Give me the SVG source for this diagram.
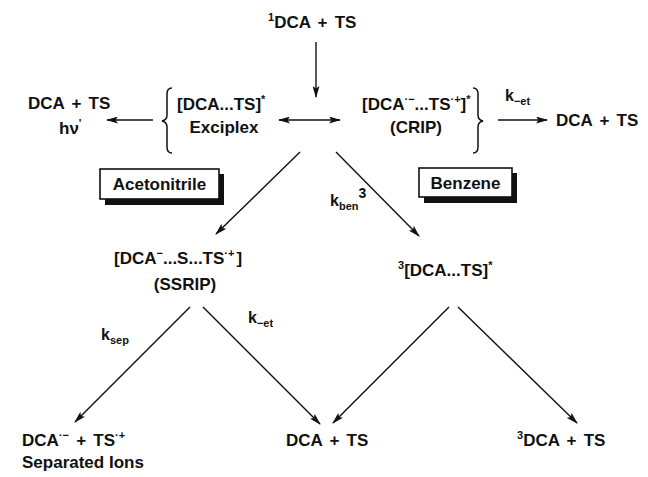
<svg xmlns="http://www.w3.org/2000/svg" width="648" height="477" viewBox="0 0 648 477">
<defs>
<style>
text{font-family:"Liberation Sans",Arial,Helvetica,sans-serif;font-weight:bold;fill:#111;font-size:17px}
.ws{word-spacing:2.5px}
.sup{font-size:11px}
.k{font-size:16px}
.con line{stroke:#111;stroke-width:1.4;fill:none}
.arr{marker-end:url(#ah)}
.brace{fill:none;stroke:#111;stroke-width:1.5}
.box{fill:#fff;stroke:#111;stroke-width:1.6}
.shadow{fill:#111}
</style>
<marker id="ah" viewBox="0 0 12 7" refX="11" refY="3.5" markerWidth="12" markerHeight="7" markerUnits="userSpaceOnUse" orient="auto-start-reverse">
<path d="M0,0 L12,3.5 L0,7 L2.5,3.5 z" fill="#111"/>
</marker>
</defs>
<rect width="648" height="477" fill="#fff"/>

<g id="n-top"><text x="268" y="28"><tspan class="sup" dy="-7">1</tspan><tspan class="ws" dy="7">DCA + TS</tspan></text></g>

<g id="n-left-ground"><text x="28" y="109" class="ws">DCA + TS</text><text x="59" y="134">hν<tspan class="sup" dy="-7">'</tspan></text></g>

<g id="n-exciplex">
<path class="brace" d="M172,88 Q167,88 167,94 L167,115 Q167,120 162,121 Q167,122 167,127 L167,147 Q167,153 172,153"/>
<text x="177" y="110">[DCA...TS]<tspan class="sup" dy="-7">*</tspan></text>
<text x="224" y="133" text-anchor="middle">Exciplex</text>
</g>

<g id="n-crip">
<text x="362" y="110">[DCA<tspan class="sup" dy="-7">·−</tspan><tspan dy="7">...TS</tspan><tspan class="sup" dy="-7">·+</tspan><tspan dy="7">]</tspan><tspan class="sup" dy="-7">*</tspan></text>
<text x="416" y="133" text-anchor="middle">(CRIP)</text>
<path class="brace" d="M473,88 Q478,88 478,94 L478,115 Q478,120 483,121 Q478,122 478,127 L478,147 Q478,153 473,153"/>
</g>

<g id="n-right-ground"><text x="556" y="126" class="ws">DCA + TS</text></g>

<g id="n-acetonitrile">
<rect class="shadow" x="105" y="174" width="119" height="31"/>
<rect class="box" x="100" y="169" width="119" height="30"/>
<text x="159.5" y="190" text-anchor="middle">Acetonitrile</text>
</g>

<g id="n-benzene">
<rect class="shadow" x="424" y="173" width="93" height="30"/>
<rect class="box" x="419" y="168" width="93" height="29"/>
<text x="465.5" y="189" text-anchor="middle">Benzene</text>
</g>

<g id="n-ssrip">
<text x="114" y="264">[DCA<tspan class="sup" dy="-7">−</tspan><tspan dy="7">...S...TS</tspan><tspan class="sup" dy="-7">·+</tspan><tspan dy="7" dx="2">]</tspan></text>
<text x="185" y="290" text-anchor="middle">(SSRIP)</text>
</g>

<g id="n-triplet-exciplex"><text x="398" y="276"><tspan class="sup" dy="-7">3</tspan><tspan dy="7">[DCA...TS]</tspan><tspan class="sup" dy="-7">*</tspan></text></g>

<g id="n-separated">
<text x="22" y="446">DCA<tspan class="sup" dy="-7">·−</tspan><tspan dy="7" class="ws"> + TS</tspan><tspan class="sup" dy="-7">·+</tspan></text>
<text x="22" y="468">Separated Ions</text>
</g>

<g id="n-ground-bottom"><text x="286" y="446" class="ws">DCA + TS</text></g>

<g id="n-triplet-dca"><text x="517" y="446"><tspan class="sup" dy="-7">3</tspan><tspan class="ws" dy="7">DCA + TS</tspan></text></g>

<g class="con" id="connectors">
<line class="arr" x1="316" y1="42" x2="316" y2="97"/>
<line class="arr" x1="153" y1="120" x2="107" y2="120"/>
<line x1="279" y1="120" x2="340" y2="120" style="marker-start:url(#ah);marker-end:url(#ah)"/>
<line class="arr" x1="498" y1="120" x2="547" y2="120"/>
<line class="arr" x1="300" y1="152" x2="216" y2="234"/>
<line class="arr" x1="336" y1="152" x2="419" y2="236"/>
<line class="arr" x1="190" y1="307" x2="75" y2="422"/>
<line class="arr" x1="203" y1="307" x2="320" y2="424"/>
<line class="arr" x1="449" y1="307" x2="333" y2="423"/>
<line class="arr" x1="458" y1="307" x2="577" y2="423"/>
</g>

<g id="labels">
<text x="505" y="101" class="k">k<tspan class="sup" dy="4">−et</tspan></text>
<text x="330" y="206" class="k">k<tspan class="sup" dy="4">ben</tspan><tspan dy="-12" style="font-size:14px">3</tspan></text>
<text x="101" y="340" class="k">k<tspan class="sup" dy="4">sep</tspan></text>
<text x="248" y="323" class="k">k<tspan class="sup" dy="4">−et</tspan></text>
</g>
</svg>
